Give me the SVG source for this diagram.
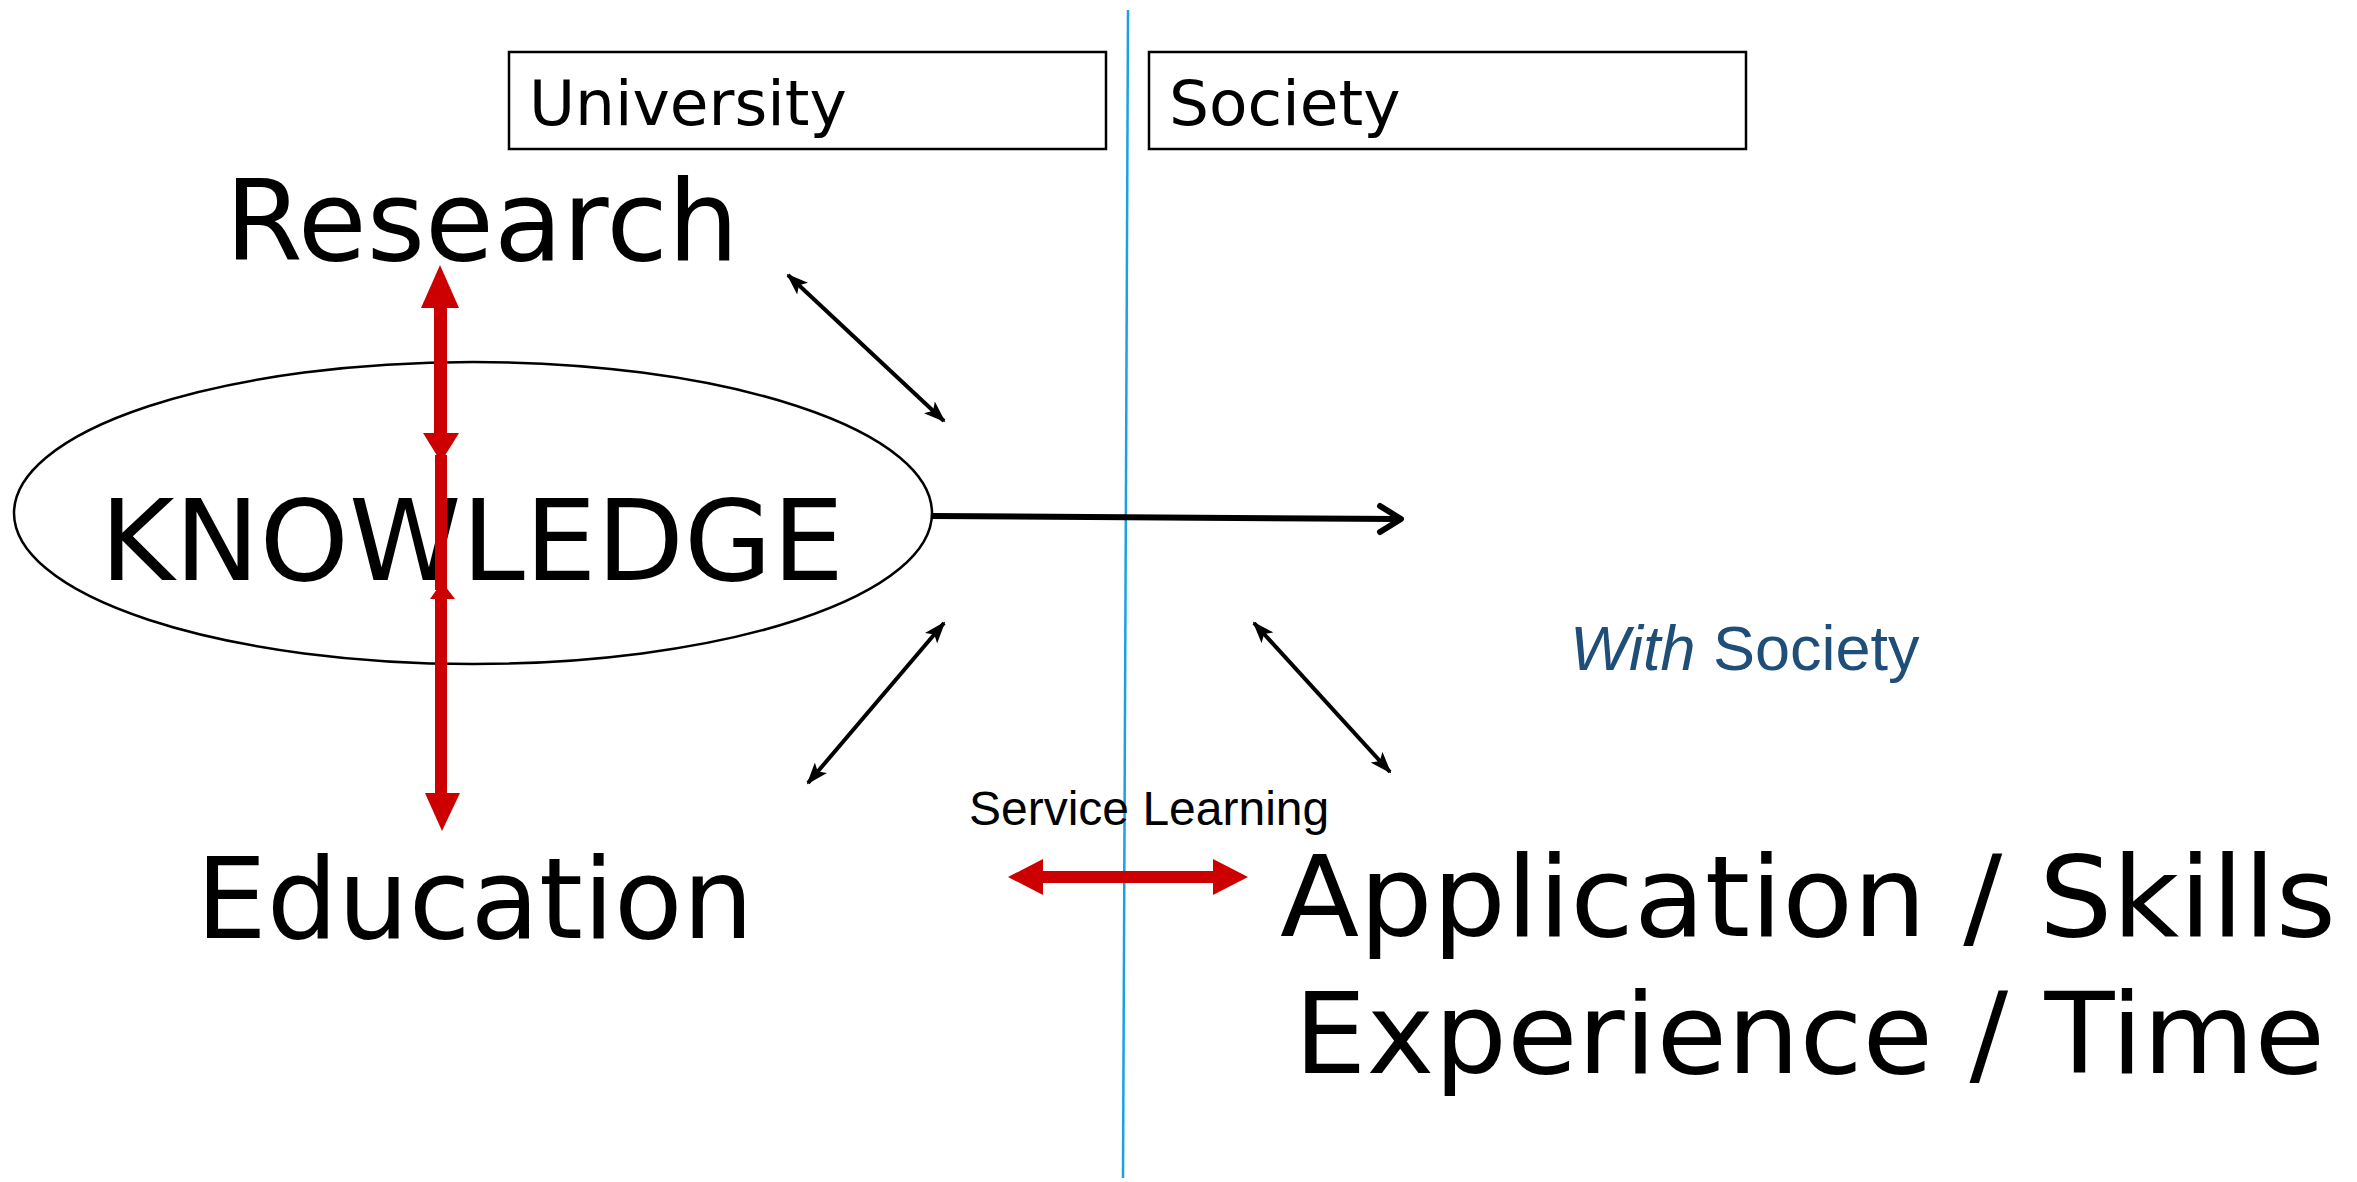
<svg xmlns="http://www.w3.org/2000/svg" width="2357" height="1182" viewBox="0 0 2357 1182">
<style>
.big{font-family:"DejaVu Sans",Verdana,sans-serif;font-size:112px;fill:#000}
.hdr{font-family:"DejaVu Sans",Verdana,sans-serif;font-size:63px;fill:#000}
.box{fill:#fff;stroke:#000;stroke-width:2.5}
.thin{stroke:#000;stroke-width:4;fill:none}
.red{fill:#cc0000}
</style>
<defs>
<marker id="ah" viewBox="0 0 22 16" refX="20" refY="8" markerWidth="22" markerHeight="16" markerUnits="userSpaceOnUse" orient="auto-start-reverse">
<path d="M0,0 L22,8 L0,16 L5,8 z" fill="#000"/>
</marker>
</defs>
<rect width="2357" height="1182" fill="#fff"/>
<g id="divider">
<line x1="1128" y1="10" x2="1123" y2="1178" stroke="#1ba1e2" stroke-width="2.5"/>
</g>
<g id="university">
<rect class="box" x="509" y="52" width="597" height="97"/>
<text class="hdr" x="529" y="125">University</text>
</g>
<g id="society">
<rect class="box" x="1149" y="52" width="597" height="97"/>
<text class="hdr" x="1169" y="125">Society</text>
</g>
<g id="research">
<text class="big" x="225" y="260">Research</text>
</g>
<g id="knowledge">
<ellipse cx="473" cy="513" rx="459" ry="151" fill="none" stroke="#000" stroke-width="2.5"/>
<text class="big" x="100" y="580" textLength="744" lengthAdjust="spacingAndGlyphs">KNOWLEDGE</text>
</g>
<g id="education">
<text class="big" x="196" y="938">Education</text>
</g>
<g id="application">
<text class="big" x="1280" y="936" textLength="1056" lengthAdjust="spacingAndGlyphs">Application / Skills</text>
<text class="big" x="1294" y="1073" textLength="1031" lengthAdjust="spacingAndGlyphs">Experience / Time</text>
</g>
<g id="with-society">
<text x="1570" y="670" style="font-family:'Liberation Sans',Arial,sans-serif;font-size:63px;fill:#1f4e79"><tspan font-style="italic">With</tspan> Society</text>
</g>
<g id="service-learning">
<text x="969" y="825" style="font-family:'Liberation Sans',Arial,sans-serif;font-size:48px;fill:#000">Service Learning</text>
</g>
<g id="connectors">
<line class="thin" x1="788" y1="275" x2="944" y2="421" marker-start="url(#ah)" marker-end="url(#ah)"/>
<line class="thin" x1="944" y1="623" x2="808" y2="783" marker-start="url(#ah)" marker-end="url(#ah)"/>
<line class="thin" x1="1254" y1="623" x2="1390" y2="772" marker-start="url(#ah)" marker-end="url(#ah)"/>
<line x1="932" y1="516" x2="1398" y2="519" stroke="#000" stroke-width="6"/>
<polyline points="1380,506 1401,519 1380,532" fill="none" stroke="#000" stroke-width="6" stroke-linecap="round" stroke-linejoin="round"/>
<g id="red-vertical">
<polygon class="red" points="440,265 459,308 421,308"/>
<rect class="red" x="434" y="300" width="13" height="140"/>
<polygon class="red" points="423,433 459,433 441,462"/>
<rect class="red" x="435" y="455" width="12" height="135"/>
<polygon class="red" points="442,582 455,599 430,599"/>
<rect class="red" x="435" y="595" width="12" height="205"/>
<polygon class="red" points="425,793 460,793 442,831"/>
</g>
<g id="red-horizontal">
<polygon class="red" points="1008,877 1043,859 1043,895"/>
<rect class="red" x="1040" y="871" width="176" height="12"/>
<polygon class="red" points="1248,877 1213,859 1213,895"/>
</g>
</g>
</svg>
